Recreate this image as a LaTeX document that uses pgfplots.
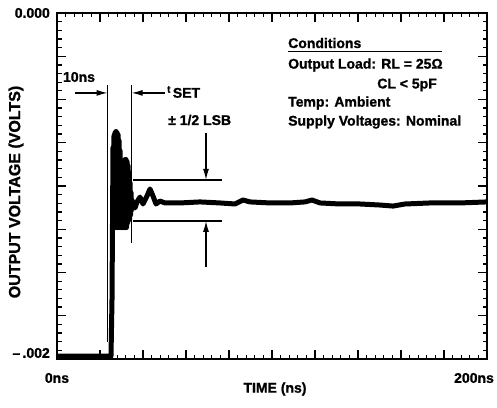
\documentclass[border=0pt]{standalone}
\usepackage{pgfplots}
\pgfplotsset{compat=1.18}
\usepackage{fontspec}
\setmainfont{Liberation Sans}[BoldFeatures={FakeBold=1.2}]
\usetikzlibrary{arrows.meta}
\begin{document}
\begin{tikzpicture}[x=1pt,y=1pt,font=\bfseries\fontsize{14}{16}\selectfont]
\useasboundingbox (0,0) rectangle (497,407);
\begin{axis}[
  at={(57pt,48pt)}, anchor=south west,
  scale only axis, width=430pt, height=346pt,
  xmin=0, xmax=200, ymin=-0.002, ymax=0,
  xtick={0,20,40,60,80,100,120,140,160,180,200},
  ytick={-0.002,-0.00175,-0.0015,-0.00125,-0.001,-0.00075,-0.0005,-0.00025,0},
  minor x tick num=4, minor y tick num=4,
  xticklabel=\empty, yticklabel=\empty,
  scaled ticks=false,
  tick align=inside, tick pos=both,
  major tick length=9pt, minor tick length=4.5pt,
  tick style={black, line width=1.3pt},
  axis line style={line width=2.5pt},
]
\addplot[black, line width=5pt, line join=round, line cap=round] coordinates {
(0,-0.001983) (25.12,-0.001983) (25.58,-0.001659)
(26.047,-0.000777) (26.279,-0.001240) (26.512,-0.000708) (26.744,-0.001240)
(26.977,-0.000691) (27.209,-0.001240) (27.442,-0.000685) (27.674,-0.001240)
(27.907,-0.000691) (28.140,-0.001240) (28.372,-0.000702) (28.605,-0.001240)
(28.837,-0.000737) (29.070,-0.001240) (29.302,-0.000795) (29.535,-0.001240)
(29.767,-0.000864) (30.000,-0.001240) (30.233,-0.000910) (30.465,-0.001240)
(30.698,-0.000876) (30.930,-0.001240) (31.163,-0.000853) (31.395,-0.001240)
(31.628,-0.000847) (31.860,-0.001240) (32.093,-0.000847) (32.326,-0.001240)
(32.558,-0.000858) (32.791,-0.001214) (33.023,-0.000882) (33.256,-0.001194)
(33.488,-0.000922) (33.721,-0.001194) (33.953,-0.000980) (34.186,-0.001168)
(34.419,-0.001038) (34.651,-0.001139) (34.884,-0.001081) (35.116,-0.001110)
(35.349,-0.001098) (36.28,-0.001127) (37.21,-0.001092) (38.60,-0.001064)
(40.00,-0.001104) (41.86,-0.001058) (43.26,-0.001017) (44.65,-0.001058) (46.05,-0.001104)
(47.91,-0.001087) (50.23,-0.001098) (57.21,-0.001098) (66.51,-0.001092) (75.81,-0.001098)
(82.79,-0.001104) (86.51,-0.001081) (89.77,-0.001092) (99.07,-0.001098) (108.37,-0.001098)
(115.35,-0.001092) (118.60,-0.001081) (122.33,-0.001098) (131.63,-0.001104) (140.93,-0.001104)
(150.23,-0.001110) (156.28,-0.001116) (161.86,-0.001104) (173.49,-0.001098) (187.44,-0.001098)
(200,-0.001092)
};
% settling band
\draw[line width=1.2pt] (axis cs:35.35,-0.000965) -- (axis cs:76.74,-0.000965);
\draw[line width=1.2pt] (axis cs:35.35,-0.001202) -- (axis cs:76.74,-0.001202);
% t_SET markers
\draw[line width=1pt] (axis cs:23.72,-0.000416) -- (axis cs:23.72,-0.0019);
\draw[line width=1pt] (axis cs:34.42,-0.000416) -- (axis cs:34.42,-0.001329);
\draw[line width=1.2pt,-{Latex[length=11pt,width=6pt]}] (axis cs:8.37,-0.000462) -- (axis cs:23.5,-0.000462);
\draw[line width=1.2pt,-{Latex[length=11pt,width=6pt]}] (axis cs:50.23,-0.000462) -- (axis cs:34.7,-0.000462);
% 1/2 LSB arrows
\draw[line width=1.2pt,-{Latex[length=11pt,width=6pt]}] (axis cs:69.3,-0.000694) -- (axis cs:69.3,-0.000965);
\draw[line width=1.2pt,-{Latex[length=11pt,width=6pt]}] (axis cs:69.3,-0.001468) -- (axis cs:69.3,-0.001202);
\end{axis}
% tick labels
\node[anchor=east,inner sep=0] at (50,394) {0.000};
\node[anchor=east,inner sep=0] at (50,54) {--\,.002};
\node[inner sep=0] at (57,29) {0ns};
\node[inner sep=0] at (474,29) {200ns};
\node[inner sep=0] at (275,18) {TIME (ns)};
\node[inner sep=0,rotate=90,font=\bfseries\fontsize{16}{18}\selectfont] at (16,215) {OUTPUT VOLTAGE (VOLTS)};
% annotations
\node[inner sep=0] at (79,330) {10ns};
\node[inner sep=0,anchor=west] at (167,315) {\raisebox{5pt}{\fontsize{10}{12}\selectfont t}\,SET};
\node[inner sep=0,anchor=west] at (168,287) {± 1/2 LSB};
% conditions
\node[inner sep=0,anchor=west] at (288,364) {Conditions};
\draw[line width=1pt] (288,355) -- (442,355);
\node[inner sep=0,anchor=west] at (288,342) {Output Load: RL = 25Ω};
\node[inner sep=0,anchor=east] at (437,322) {CL < 5pF};
\node[inner sep=0,anchor=west] at (288,304) {Temp: Ambient};
\node[inner sep=0,anchor=west] at (288,285) {Supply Voltages: Nominal};
\end{tikzpicture}
\end{document}
